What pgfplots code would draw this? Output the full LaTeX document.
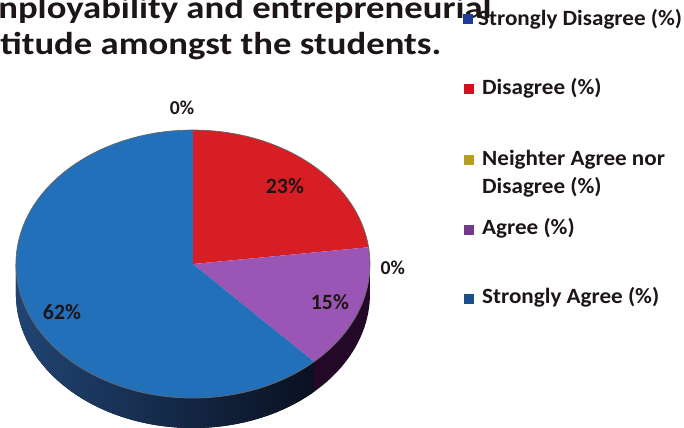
\documentclass[border=0pt]{standalone}
\usepackage{pgfplots}
\pgfplotsset{compat=1.18}
\usepackage{pgfplotstable}
\usepackage{fontspec}
\setmainfont{Carlito}

\definecolor{pieblue}{RGB}{34,112,186}
\definecolor{piered}{RGB}{214,30,36}
\definecolor{piepurple}{RGB}{155,85,180}
\definecolor{sideblueA}{RGB}{32,68,115}
\definecolor{sideblueB}{RGB}{10,16,32}
\definecolor{sidepurple}{RGB}{35,8,40}
\definecolor{legSD}{RGB}{30,60,150}
\definecolor{legD}{RGB}{205,20,30}
\definecolor{legN}{RGB}{180,160,30}
\definecolor{legA}{RGB}{115,55,140}
\definecolor{legSA}{RGB}{25,80,140}
\definecolor{txt}{RGB}{30,22,22}

\pgfplotstableread{
cat value
SD 0
D 23
N 0
A 15
SA 62
}\piedata

\begin{document}
\begin{tikzpicture}
\useasboundingbox (0,0) rectangle (17.1cm,10.675cm);
\clip (0,0) rectangle (17.1cm,10.675cm);
\pgfplotstablegetelem{1}{value}\of\piedata \let\vD\pgfplotsretval
\pgfplotstablegetelem{3}{value}\of\piedata \let\vA\pgfplotsretval
\pgfplotstablegetelem{4}{value}\of\piedata \let\vSA\pgfplotsretval
\pgfmathsetmacro\aD{90-3.6*\vD}
\pgfmathsetmacro\aA{\aD-3.6*\vA}
\pgfmathsetmacro\aSA{\aA-3.6*\vSA}
\begin{axis}[x=0.025cm,y=0.025cm,xmin=-193,xmax=491,ymin=-163,ymax=264,
  hide axis,at={(0,0)},anchor=south west,clip=false]
\coordinate (C) at (axis cs:0,0);
\coordinate (L23) at (axis cs:92,78);
\coordinate (L15) at (axis cs:137,-38);
\coordinate (L62) at (axis cs:-131,-48);
\coordinate (L0a) at (axis cs:-11,156);
\coordinate (L0b) at (axis cs:200,-4);
\end{axis}
\begin{scope}[shift={(C)}]
% sides
\fill[left color=sideblueA,right color=sideblueB]
  (-180:4.425cm and 3.35cm)
  arc[start angle=-180,end angle=\aA,x radius=4.425cm,y radius=3.35cm]
  -- ([yshift=-0.75cm]\aA:4.425cm and 3.35cm)
  arc[start angle=\aA,end angle=-180,x radius=4.425cm,y radius=3.35cm] -- cycle;
\fill[sidepurple]
  (\aA:4.425cm and 3.35cm)
  arc[start angle=\aA,end angle=0,x radius=4.425cm,y radius=3.35cm]
  -- ([yshift=-0.75cm]0:4.425cm and 3.35cm)
  arc[start angle=0,end angle=\aA,x radius=4.425cm,y radius=3.35cm] -- cycle;
% top face
\fill[piered] (0,0) -- (90:4.425cm and 3.35cm)
  arc[start angle=90,end angle=\aD,x radius=4.425cm,y radius=3.35cm] -- cycle;
\fill[piepurple] (0,0) -- (\aD:4.425cm and 3.35cm)
  arc[start angle=\aD,end angle=\aA,x radius=4.425cm,y radius=3.35cm] -- cycle;
\fill[pieblue] (0,0) -- (\aA:4.425cm and 3.35cm)
  arc[start angle=\aA,end angle=\aSA,x radius=4.425cm,y radius=3.35cm] -- cycle;
\draw[black!60,line width=0.5pt] (0,0) ellipse[x radius=4.425cm,y radius=3.35cm];
\end{scope}
% labels
\begin{scope}[font=\bfseries\fontsize{15.5}{17}\selectfont,text=txt]
\node at (L23) {23\%};
\node at (L15) {15\%};
\node at (L62) {62\%};
\end{scope}
\begin{scope}[font=\bfseries\fontsize{14}{16}\selectfont,text=txt]
\node at (L0a) {0\%};
\node at (L0b) {0\%};
\end{scope}
\begin{scope}[x=0.025cm,y=-0.025cm,shift={(0,10.675cm)}]
\begin{scope}[font=\bfseries\fontsize{22.5}{26}\selectfont,text=txt]
\node[anchor=base west,inner sep=0,xscale=1.16,transform shape] at (-2,19) {nployability and entrepreneurial};
\node[anchor=base west,inner sep=0,xscale=1.16,transform shape] at (0,55) {titude amongst the students.};
\end{scope}
\begin{scope}[font=\bfseries\fontsize{15.5}{18}\selectfont,text=txt]
\fill[legSD] (463,14) rectangle (473,24);
\node[anchor=base west,inner sep=0,xscale=1.06,transform shape] at (478,26) {Strongly Disagree (\%)};
\fill[legD] (464,84) rectangle (474,94);
\node[anchor=base west,inner sep=0,xscale=1.06,transform shape] at (482,95) {Disagree (\%)};
\fill[legN] (464,155) rectangle (474,165);
\node[anchor=base west,inner sep=0,xscale=1.06,transform shape] at (482,166) {Neighter Agree nor};
\node[anchor=base west,inner sep=0,xscale=1.06,transform shape] at (482,194) {Disagree (\%)};
\fill[legA] (464,225) rectangle (474,235);
\node[anchor=base west,inner sep=0,xscale=1.06,transform shape] at (482,235) {Agree (\%)};
\fill[legSA] (464,294) rectangle (474,304);
\node[anchor=base west,inner sep=0,xscale=1.06,transform shape] at (482,304) {Strongly Agree (\%)};
\end{scope}
\end{scope}
\end{tikzpicture}
\end{document}
